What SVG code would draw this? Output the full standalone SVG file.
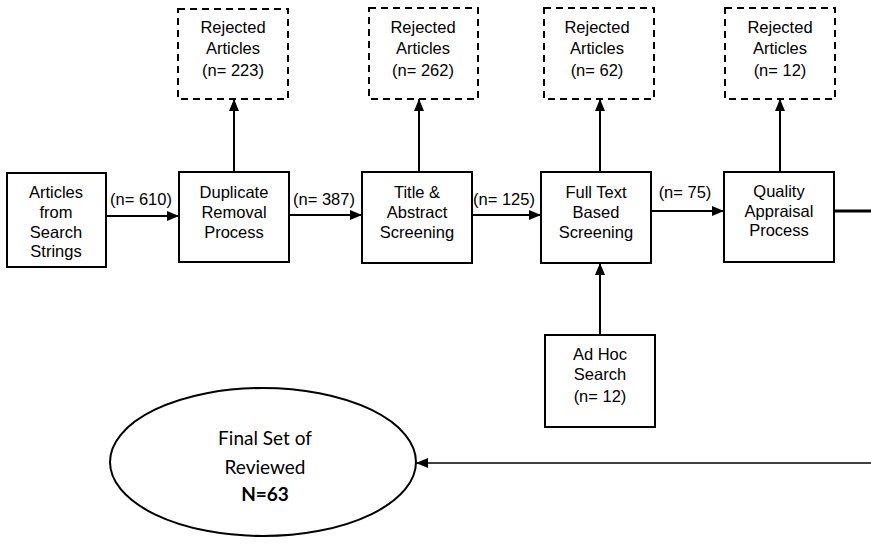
<svg xmlns="http://www.w3.org/2000/svg" width="871" height="545" viewBox="0 0 871 545">
  <style>
    .box { fill: #fff; stroke: #000; stroke-width: 2; }
    .rej { fill: #fff; stroke: #000; stroke-width: 2; stroke-dasharray: 7 5; }
    .t { font-family: "Liberation Sans", Arial, sans-serif; font-size: 16.5px; fill: #000; text-anchor: middle; }
    .c { font-family: Lato, "Open Sans", sans-serif; font-size: 19px; fill: #000; text-anchor: middle; }
    .edge { stroke: #000; stroke-width: 2; fill: none; }
  </style>
  <defs>
    <marker id="head" viewBox="0 0 12 10" refX="12" refY="5" markerWidth="12" markerHeight="10" markerUnits="userSpaceOnUse" orient="auto">
      <path d="M0,0 L12,5 L0,10 z" fill="#000"/>
    </marker>
  </defs>

  <!-- connectors -->
  <g id="connectors">
    <line class="edge" x1="106" y1="216" x2="179" y2="216" marker-end="url(#head)"/>
    <line class="edge" x1="289" y1="215" x2="362" y2="215" marker-end="url(#head)"/>
    <line class="edge" x1="472" y1="215" x2="541" y2="215" marker-end="url(#head)"/>
    <line class="edge" x1="651" y1="211" x2="724" y2="211" marker-end="url(#head)"/>
    <line class="edge" x1="234" y1="172" x2="234" y2="99" marker-end="url(#head)"/>
    <line class="edge" x1="419" y1="172" x2="419" y2="99" marker-end="url(#head)"/>
    <line class="edge" x1="600" y1="172" x2="600" y2="99" marker-end="url(#head)"/>
    <line class="edge" x1="780" y1="172" x2="780" y2="99" marker-end="url(#head)"/>
    <line class="edge" x1="600" y1="335" x2="600" y2="263" marker-end="url(#head)"/>
    <line x1="834" y1="211" x2="871" y2="211" stroke="#000" stroke-width="3"/>
    <line x1="871" y1="463" x2="416" y2="463" stroke="#000" stroke-width="1.5" marker-end="url(#head)"/>
    <text class="t" x="141" y="205">(n= 610)</text>
    <text class="t" x="324" y="205">(n= 387)</text>
    <text class="t" x="504" y="205">(n= 125)</text>
    <text class="t" x="685" y="198">(n= 75)</text>
  </g>

  <g id="source">
    <rect class="box" x="7" y="173" width="99" height="94"/>
    <text class="t" x="56" y="198">Articles</text>
    <text class="t" x="56" y="218">from</text>
    <text class="t" x="56" y="238">Search</text>
    <text class="t" x="56" y="257">Strings</text>
  </g>

  <g id="duplicate">
    <rect class="box" x="179" y="172" width="110" height="90"/>
    <text class="t" x="234" y="198">Duplicate</text>
    <text class="t" x="234" y="218">Removal</text>
    <text class="t" x="234" y="238">Process</text>
  </g>

  <g id="title-abstract">
    <rect class="box" x="362" y="172" width="110" height="91"/>
    <text class="t" x="417" y="198">Title &amp;</text>
    <text class="t" x="417" y="218">Abstract</text>
    <text class="t" x="417" y="238">Screening</text>
  </g>

  <g id="full-text">
    <rect class="box" x="541" y="172" width="110" height="91"/>
    <text class="t" x="596" y="198">Full Text</text>
    <text class="t" x="596" y="218">Based</text>
    <text class="t" x="596" y="238">Screening</text>
  </g>

  <g id="quality">
    <rect class="box" x="724" y="172" width="110" height="90"/>
    <text class="t" x="779" y="197">Quality</text>
    <text class="t" x="779" y="217">Appraisal</text>
    <text class="t" x="779" y="236">Process</text>
  </g>

  <g id="rejected-223">
    <rect class="rej" x="178" y="9" width="110" height="90"/>
    <text class="t" x="233" y="33">Rejected</text>
    <text class="t" x="233" y="54">Articles</text>
    <text class="t" x="233" y="76">(n= 223)</text>
  </g>

  <g id="rejected-262">
    <rect class="rej" x="369" y="8" width="109" height="91"/>
    <text class="t" x="423" y="33">Rejected</text>
    <text class="t" x="423" y="54">Articles</text>
    <text class="t" x="423" y="76">(n= 262)</text>
  </g>

  <g id="rejected-62">
    <rect class="rej" x="544" y="8" width="110" height="91"/>
    <text class="t" x="597" y="33">Rejected</text>
    <text class="t" x="597" y="54">Articles</text>
    <text class="t" x="597" y="76">(n= 62)</text>
  </g>

  <g id="rejected-12">
    <rect class="rej" x="725" y="8" width="110" height="91"/>
    <text class="t" x="780" y="33">Rejected</text>
    <text class="t" x="780" y="54">Articles</text>
    <text class="t" x="780" y="76">(n= 12)</text>
  </g>

  <g id="ad-hoc">
    <rect class="box" x="545" y="335" width="110" height="92"/>
    <text class="t" x="600" y="360">Ad Hoc</text>
    <text class="t" x="600" y="380">Search</text>
    <text class="t" x="600" y="402">(n= 12)</text>
  </g>

  <g id="final-set">
    <ellipse cx="263" cy="462" rx="153" ry="74" fill="#fff" stroke="#000" stroke-width="2"/>
    <text class="c" x="265" y="445">Final Set of</text>
    <text class="c" x="265" y="474">Reviewed</text>
    <text class="c" x="265" y="501" font-weight="bold">N=63</text>
  </g>
</svg>
